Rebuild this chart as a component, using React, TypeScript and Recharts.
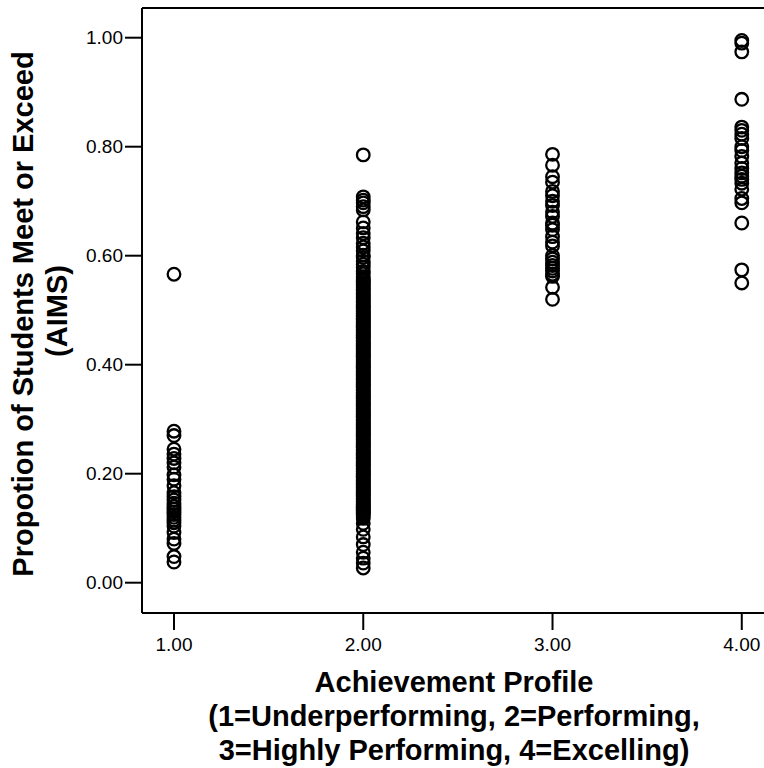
import { ScatterChart, Scatter, XAxis, YAxis, ReferenceLine } from "recharts";

// proportion meeting/exceeding AIMS, by achievement profile (1..4)
const underperforming = [
  0.566, 0.278, 0.27, 0.245, 0.236, 0.228, 0.22, 0.212, 0.198, 0.19, 0.178,
  0.165, 0.158, 0.152, 0.146, 0.14, 0.135, 0.13, 0.125, 0.12, 0.115, 0.11,
  0.104, 0.092, 0.08, 0.072, 0.048, 0.038,
];

const performing = [
  0.785, 0.708, 0.702, 0.697, 0.69, 0.684, 0.662, 0.651, 0.641, 0.633, 0.623,
  0.616, 0.609, 0.601, 0.597, 0.59, 0.584, 0.579, 0.571, 0.567, 0.561, 0.557,
  0.554, 0.551, 0.548, 0.546, 0.542, 0.539, 0.536, 0.532, 0.529, 0.526, 0.523,
  0.52, 0.517, 0.514, 0.511, 0.508, 0.506, 0.503,
  0.5, 0.498, 0.495, 0.493, 0.49, 0.488, 0.485, 0.483, 0.48, 0.478, 0.475,
  0.473, 0.47, 0.468, 0.465, 0.463, 0.46, 0.458, 0.455, 0.453, 0.45, 0.448,
  0.445, 0.443, 0.44, 0.438, 0.435, 0.433, 0.43, 0.428, 0.425, 0.423, 0.42,
  0.418, 0.415, 0.413, 0.41, 0.408, 0.405, 0.403, 0.4, 0.398, 0.395, 0.393,
  0.39, 0.388, 0.385, 0.383, 0.38, 0.378, 0.375, 0.373, 0.37, 0.368, 0.365,
  0.363, 0.36, 0.358, 0.355, 0.353, 0.35, 0.348, 0.345, 0.343, 0.34, 0.338,
  0.335, 0.333, 0.33, 0.328, 0.325, 0.323, 0.32, 0.318, 0.315, 0.313, 0.31,
  0.308, 0.305, 0.303, 0.3, 0.298, 0.295, 0.293, 0.29, 0.288, 0.285, 0.283,
  0.28, 0.278, 0.275, 0.273, 0.27, 0.268, 0.265, 0.263, 0.26, 0.258, 0.255,
  0.253, 0.25, 0.248, 0.245, 0.243, 0.24, 0.238, 0.235, 0.233, 0.23, 0.228,
  0.225, 0.223, 0.22, 0.218, 0.215, 0.213, 0.21, 0.208, 0.205, 0.203, 0.2,
  0.198, 0.195, 0.193, 0.19, 0.188, 0.185, 0.183, 0.18, 0.178, 0.175, 0.173,
  0.17, 0.168, 0.165, 0.163, 0.16, 0.158, 0.155, 0.153, 0.15, 0.148, 0.145,
  0.143, 0.14, 0.138, 0.135, 0.133, 0.13, 0.128, 0.125, 0.122, 0.118, 0.109,
  0.098, 0.084, 0.07, 0.056, 0.045, 0.036, 0.027,
];

const highlyPerforming = [
  0.786, 0.766, 0.745, 0.735, 0.718, 0.71, 0.7, 0.692, 0.68, 0.672, 0.66,
  0.656, 0.648, 0.635, 0.625, 0.618, 0.6, 0.594, 0.588, 0.582, 0.577, 0.572,
  0.566, 0.562, 0.542, 0.52,
];

const excelling = [
  0.995, 0.99, 0.974, 0.887, 0.836, 0.83, 0.823, 0.815, 0.8, 0.793, 0.782,
  0.77, 0.76, 0.752, 0.746, 0.74, 0.733, 0.722, 0.705, 0.697, 0.66, 0.574, 0.55,
];

const xTicks = [1, 2, 3, 4];
const yTicks = [0, 0.2, 0.4, 0.6, 0.8, 1.0];
const X_DOMAIN: [number, number] = [0.831, 4.128];
const Y_DOMAIN: [number, number] = [-0.0556, 1.0545];

const FONT = "'Liberation Sans', Arial, Helvetica, sans-serif";

const toPoints = (vals: number[], x: number) => vals.map((y) => ({ x, y }));

const groups = [
  toPoints(underperforming, 1),
  toPoints(performing, 2),
  toPoints(highlyPerforming, 3),
  toPoints(excelling, 4),
];

function Ring(props: any) {
  const { cx, cy } = props;
  if (cx == null || cy == null) return null;
  return (
    <circle cx={cx} cy={cy} r={6.3} fill="none" stroke="#000" strokeWidth={2.3} />
  );
}

function XTick(props: any) {
  const { x, y, payload } = props;
  return (
    <text x={x} y={y} dy="0.71em" textAnchor="middle" fontFamily={FONT} fontSize={19} fill="#000">
      {Number(payload.value).toFixed(2)}
    </text>
  );
}

function YTick(props: any) {
  const { x, y, payload } = props;
  return (
    <text x={x} y={y} dy="0.355em" textAnchor="end" fontFamily={FONT} fontSize={19} fill="#000">
      {Number(payload.value).toFixed(2)}
    </text>
  );
}

export default function App() {
  return (
    <div
      style={{
        position: "absolute", left: 0, top: 0, width: 764, height: 768,
        overflow: "hidden", background: "#fff", fontFamily: FONT,
      }}
    >
      <ScatterChart
        width={770} height={768}
        margin={{ top: 8, right: 4, bottom: 0, left: 0 }}
      >
        <XAxis
          type="number" dataKey="x" domain={X_DOMAIN} ticks={xTicks}
          allowDataOverflow height={155}
          tick={<XTick />} tickSize={17} tickMargin={8}
          axisLine={{ stroke: "#000", strokeWidth: 2 }}
          tickLine={{ stroke: "#000", strokeWidth: 2 }}
        />
        <YAxis
          type="number" dataKey="y" domain={Y_DOMAIN} ticks={yTicks}
          allowDataOverflow width={142}
          tick={<YTick />} tickSize={17} tickMargin={2}
          axisLine={{ stroke: "#000", strokeWidth: 2 }}
          tickLine={{ stroke: "#000", strokeWidth: 2 }}
        />
        <ReferenceLine y={Y_DOMAIN[1]} stroke="#000" strokeWidth={2} />
        <ReferenceLine x={X_DOMAIN[1]} stroke="#000" strokeWidth={2} />
        {groups.map((g, i) => (
          <Scatter key={i} data={g} shape={Ring} isAnimationActive={false} />
        ))}
      </ScatterChart>

      {/* axis titles */}
      <svg
        width={764} height={768}
        style={{ position: "absolute", left: 0, top: 0, pointerEvents: "none" }}
      >
        <g fontFamily={FONT} fontWeight="bold" fontSize={29} fill="#000" textAnchor="middle">
          <text x={454} y={692}>Achievement Profile</text>
          <text x={454} y={726}>(1=Underperforming, 2=Performing,</text>
          <text x={454} y={760}>3=Highly Performing, 4=Excelling)</text>
          <text x={33} y={314} transform="rotate(-90 33 314)">
            Propotion of Students Meet or Exceed
          </text>
          <text x={67} y={311} transform="rotate(-90 67 311)">(AIMS)</text>
        </g>
      </svg>
    </div>
  );
}
